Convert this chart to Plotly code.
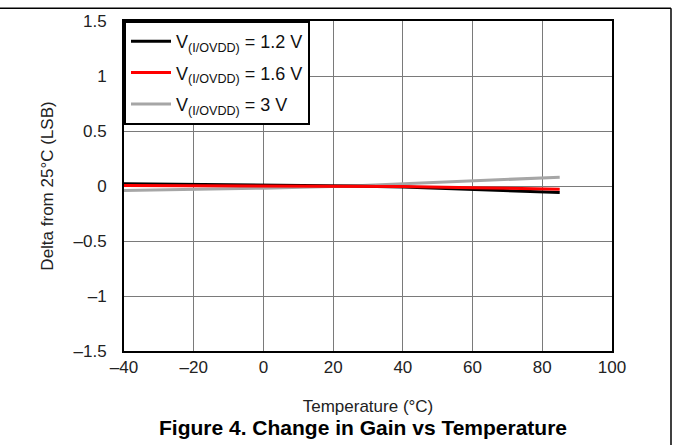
import plotly.graph_objects as go

temps = [-40, -20, 0, 25, 40, 60, 85]
v12 = [0.02, 0.015, 0.01, 0.0, -0.01, -0.03, -0.06]
v16 = [0.005, 0.003, 0.002, 0.0, -0.005, -0.015, -0.03]
v30 = [-0.04, -0.03, -0.02, 0.0, 0.02, 0.045, 0.08]

names = ["V<sub>(I/OVDD)</sub> = 1.2 V", "V<sub>(I/OVDD)</sub> = 1.6 V", "V<sub>(I/OVDD)</sub> = 3 V"]
colors = ["#000000", "#ff0000", "#a6a6a6"]
series = [v12, v16, v30]

xticks = [-40, -20, 0, 20, 40, 60, 80, 100]
xticktext = ["–40", "–20", "0", "20", "40", "60", "80", "100"]
yticks = [-1.5, -1, -0.5, 0, 0.5, 1, 1.5]
yticktext = ["–1.5", "–1", "–0.5", "0", "0.5", "1", "1.5"]

fig = go.Figure()
order = [2, 0, 1]
for i in order:
    fig.add_trace(go.Scatter(x=temps, y=series[i], mode="lines", name=names[i],
                             line=dict(color=colors[i], width=3),
                             legendrank=i + 1, legendgroup=str(i)))

font = "Liberation Sans, Arial, sans-serif"
fig.update_layout(
    width=673, height=445,
    margin=dict(l=124, r=61, t=19, b=94),
    paper_bgcolor="white", plot_bgcolor="white",
    font=dict(family=font, size=17, color="#222222"),
    showlegend=True,
    legend=dict(x=0, y=1, xanchor="left", yanchor="top",
                bgcolor="white", bordercolor="black", borderwidth=2,
                font=dict(size=18, color="#111111"), tracegroupgap=5,
                itemwidth=40),
    xaxis=dict(range=[-40, 100], tickvals=xticks, ticktext=xticktext,
               showgrid=True, gridcolor="#7a7a7a", gridwidth=1,
               showline=True, linecolor="black", linewidth=2, mirror=True,
               ticks="", zeroline=False, ticklabelstandoff=0,
               title=dict(text="Temperature (°C)", standoff=24, font=dict(size=17))),
    yaxis=dict(range=[-1.5, 1.5], tickvals=yticks, ticktext=yticktext,
               showgrid=True, gridcolor="#7a7a7a", gridwidth=1,
               showline=True, linecolor="black", linewidth=2, mirror=True,
               ticks="", zeroline=False, ticklabelstandoff=12,
               title=dict(text="Delta from 25°C (LSB)", standoff=16, font=dict(size=17))),
    annotations=[dict(text="<b>Figure 4. Change in Gain vs Temperature</b>",
                      xref="paper", yref="paper", x=0.49, y=-0.232,
                      xanchor="center", yanchor="middle", showarrow=False,
                      font=dict(size=21, color="black"))],
    shapes=[
        dict(type="line", xref="paper", yref="paper", x0=-0.26, x1=1.1209, y0=1.039, y1=1.039,
             line=dict(color="black", width=1.5)),
        dict(type="line", xref="paper", yref="paper", x0=1.1209, x1=1.1209, y0=1.039, y1=-0.3,
             line=dict(color="black", width=1.5)),
    ],
)
fig.write_html("out.html")
